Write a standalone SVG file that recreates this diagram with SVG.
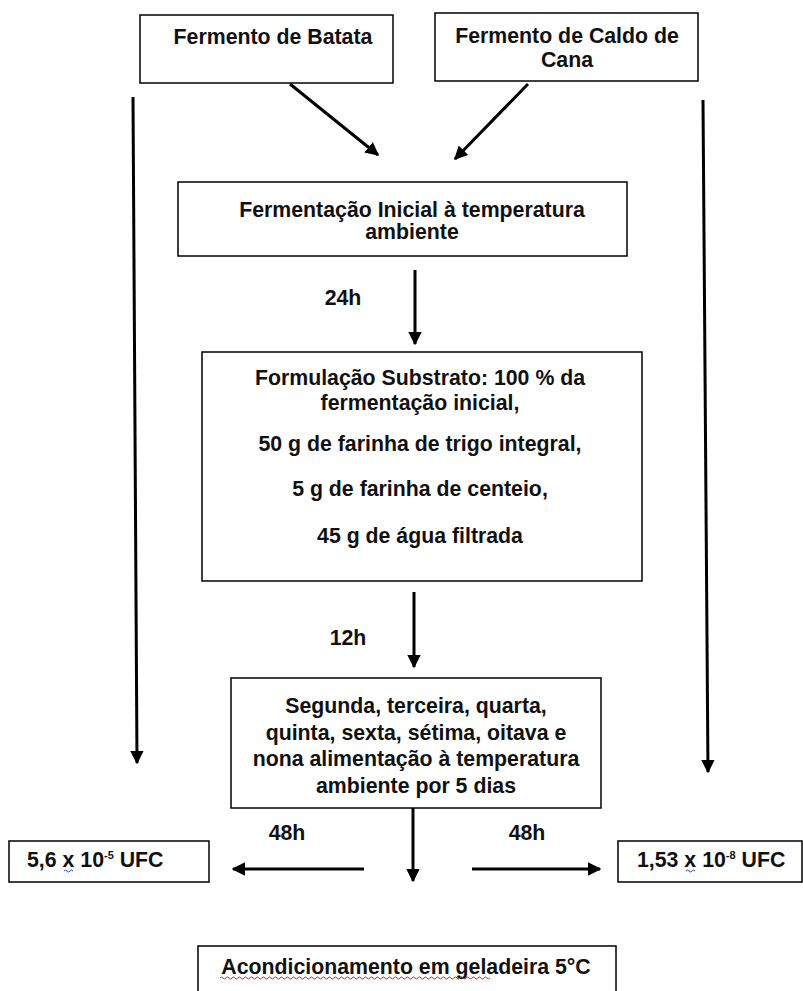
<svg xmlns="http://www.w3.org/2000/svg" width="803" height="991" viewBox="0 0 803 991">
<style>
.box{fill:#fff;stroke:#000;stroke-width:1.5}
.t{font-family:"Liberation Sans",Arial,sans-serif;font-weight:bold;font-size:21.3px;fill:#111;text-anchor:middle}
.tl{font-family:"Liberation Sans",Arial,sans-serif;font-weight:bold;font-size:21.3px;fill:#111}
.sup{font-size:11px}
.c{stroke:#000;stroke-width:3;fill:none}
.sq{fill:none;stroke-width:1}
</style>
<defs>
<marker id="ah" viewBox="0 0 10 10" refX="9" refY="5" markerWidth="4.5" markerHeight="4.5" orient="auto" markerUnits="strokeWidth">
<path d="M0,0 L10,5 L0,10 Z" fill="#000"/>
</marker>
</defs>
<rect width="803" height="991" fill="#fff"/>
<g id="connectors">
<line class="c" x1="290" y1="84" x2="378" y2="155" marker-end="url(#ah)"/>
<line class="c" x1="528" y1="84" x2="455" y2="159" marker-end="url(#ah)"/>
<line class="c" x1="415" y1="270" x2="415" y2="344" marker-end="url(#ah)"/>
<line class="c" x1="414" y1="592" x2="414" y2="667" marker-end="url(#ah)"/>
<line class="c" x1="133" y1="97" x2="137" y2="763" marker-end="url(#ah)"/>
<line class="c" x1="703" y1="100" x2="708" y2="772" marker-end="url(#ah)"/>
<line class="c" x1="413" y1="807" x2="413" y2="881" marker-end="url(#ah)"/>
<line class="c" x1="364" y1="869" x2="233" y2="869" marker-end="url(#ah)"/>
<line class="c" x1="472" y1="869" x2="600" y2="869" marker-end="url(#ah)"/>
<text class="t" x="343" y="305">24h</text>
<text class="t" x="348" y="645">12h</text>
<text class="t" x="287" y="840">48h</text>
<text class="t" x="527" y="840">48h</text>
</g>
<g id="n1">
<rect class="box" x="140" y="15" width="253" height="68"/>
<text class="t" x="273" y="44">Fermento de Batata</text>
</g>
<g id="n2">
<rect class="box" x="435" y="13" width="263" height="68"/>
<text class="t" x="567" y="43">Fermento de Caldo de</text>
<text class="t" x="567" y="67">Cana</text>
</g>
<g id="n3">
<rect class="box" x="178" y="182" width="449" height="74"/>
<text class="t" x="412" y="217">Fermentação Inicial à temperatura</text>
<text class="t" x="412" y="239">ambiente</text>
</g>
<g id="n4">
<rect class="box" x="202" y="352" width="440" height="229"/>
<text class="t" x="420" y="385">Formulação Substrato: 100 % da</text>
<text class="t" x="420" y="410">fermentação inicial,</text>
<text class="t" x="420" y="451">50 g de farinha de trigo integral,</text>
<text class="t" x="420" y="496">5 g de farinha de centeio,</text>
<text class="t" x="420" y="543">45 g de água filtrada</text>
</g>
<g id="n5">
<rect class="box" x="231" y="678" width="370" height="130"/>
<text class="t" x="416" y="713">Segunda, terceira, quarta,</text>
<text class="t" x="416" y="740">quinta, sexta, sétima, oitava e</text>
<text class="t" x="416" y="766">nona alimentação à temperatura</text>
<text class="t" x="416" y="793">ambiente por 5 dias</text>
</g>
<g id="n6">
<rect class="box" x="9" y="841" width="200" height="41"/>
<text class="tl" x="27" y="867">5,6 x 10<tspan class="sup" dy="-8">-5</tspan><tspan dy="8"> UFC</tspan></text>
<path class="sq" stroke="#2a3fd8" d="M64,871 q1.5,-2 3,0 t3,0 t3,0"/>
</g>
<g id="n7">
<rect class="box" x="618" y="841" width="184" height="41"/>
<text class="tl" x="637" y="867">1,53 x 10<tspan class="sup" dy="-8">-8</tspan><tspan dy="8"> UFC</tspan></text>
<path class="sq" stroke="#2a3fd8" d="M686,871 q1.5,-2 3,0 t3,0 t3,0"/>
</g>
<g id="n8">
<rect class="box" x="198" y="946" width="418" height="50"/>
<text class="t" x="406" y="974">Acondicionamento em geladeira 5°C</text>
<path class="sq" stroke="#d22" d="M220,978 q1.5,-2 3,0 t3,0 t3,0 t3,0 t3,0 t3,0 t3,0 t3,0 t3,0 t3,0 t3,0 t3,0 t3,0 t3,0 t3,0 t3,0 t3,0 t3,0 t3,0 t3,0 t3,0 t3,0 t3,0 t3,0 t3,0 t3,0 t3,0 t3,0 t3,0 t3,0 t3,0 t3,0 t3,0 t3,0 t3,0 t3,0 t3,0 t3,0 t3,0 t3,0 t3,0 t3,0 t3,0 t3,0 t3,0 t3,0 t3,0 t3,0 t3,0 t3,0 t3,0 t3,0 t3,0 t3,0 t3,0 t3,0 t3,0 t3,0 t3,0 t3,0 t3,0 t3,0 t3,0 t3,0 t3,0 t3,0 t3,0 t3,0 t3,0 t3,0 t3,0 t3,0 t3,0 t3,0 t3,0 t3,0 t3,0 t3,0 t3,0 t3,0 t3,0 t3,0 t3,0 t3,0 t3,0 t3,0 t3,0 t3,0 t3,0 t3,0"/>
</g>
</svg>
